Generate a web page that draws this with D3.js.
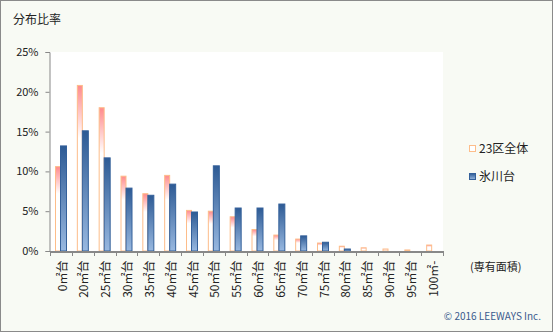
<!DOCTYPE html>
<html>
<head>
<meta charset="utf-8">
<script src="https://cdn.jsdelivr.net/npm/d3@7"></script>
<style>
  html, body { margin: 0; padding: 0; background: #ffffff; }
  svg { display: block; }
  text { font-family: "Noto Sans CJK JP", "Noto Sans", sans-serif; }
</style>
</head>
<body>
<svg id="chart" width="553" height="332"></svg>
<script>
// Floor-area bands
const categories = ["0㎡台","20㎡台","25㎡台","30㎡台","35㎡台","40㎡台","45㎡台","50㎡台","55㎡台","60㎡台","65㎡台","70㎡台","75㎡台","80㎡台","85㎡台","90㎡台","95㎡台","100㎡-"];
// Share of units per band (%)
const wardAll  = [10.6, 20.8, 18.0, 9.4, 7.2, 9.5, 5.1, 5.0, 4.3, 2.7, 2.0, 1.5, 1.0, 0.6, 0.4, 0.25, 0.13, 0.75];
const hikawadai = [13.2, 15.1, 11.7, 7.9, 7.0, 8.4, 4.9, 10.7, 5.4, 5.4, 5.9, 1.9, 1.1, 0.25, 0, 0, 0.12, 0.4];
const seriesNames = ["23区全体", "氷川台"];
const yTicks = [0, 5, 10, 15, 20, 25];

const W = 553, H = 332;
const plot = { left: 50, right: 443, top: 52, bottom: 251 };

const svg = d3.select("#chart");
const defs = svg.append("defs");

const gOrange = defs.append("linearGradient").attr("id", "gradOrange")
  .attr("x1", 0).attr("y1", 0).attr("x2", 0).attr("y2", 1);
gOrange.append("stop").attr("offset", "0%").attr("stop-color", "#ff8a8c");
gOrange.append("stop").attr("offset", "32%").attr("stop-color", "#ffffff");
gOrange.append("stop").attr("offset", "100%").attr("stop-color", "#ffffff");

const gBlue = defs.append("linearGradient").attr("id", "gradBlue")
  .attr("x1", 0).attr("y1", 0).attr("x2", 0).attr("y2", 1);
gBlue.append("stop").attr("offset", "0%").attr("stop-color", "#2d5a94");
gBlue.append("stop").attr("offset", "100%").attr("stop-color", "#98b8e0");

// Background and frame
svg.append("rect").attr("x", 0.5).attr("y", 0.5).attr("width", W - 1).attr("height", H - 1)
  .attr("fill", "#f8faf4").attr("stroke", "#8a8a8a");
svg.append("rect").attr("x", plot.left).attr("y", plot.top)
  .attr("width", plot.right - plot.left).attr("height", plot.bottom - plot.top)
  .attr("fill", "#ffffff");

const x = d3.scaleBand().domain(categories).range([plot.left, plot.right]).padding(0);
const y = d3.scaleLinear().domain([0, 25]).range([plot.bottom, plot.top]);

// Title
svg.append("text").attr("x", 13).attr("y", 24).attr("font-size", 12).attr("fill", "#222")
  .text("分布比率");

// Bars
const bw = x.bandwidth();
svg.append("g").selectAll("rect").data(categories).join("rect")
  .attr("x", d => x(d) + 5.5)
  .attr("y", (d, i) => y(wardAll[i]))
  .attr("width", 5)
  .attr("height", (d, i) => Math.max(0, y(0) - y(wardAll[i])))
  .attr("fill", "url(#gradOrange)")
  .attr("stroke", "#fdbd8a").attr("stroke-width", 1);

svg.append("g").selectAll("rect").data(categories).join("rect")
  .filter((d, i) => hikawadai[i] > 0)
  .attr("x", d => x(d) + 10.5)
  .attr("y", (d, i) => y(hikawadai[i]))
  .attr("width", 6)
  .attr("height", (d, i) => Math.max(0, y(0) - y(hikawadai[i])))
  .attr("fill", "url(#gradBlue)")
  .attr("stroke", "#34609a").attr("stroke-width", 1);

// Y axis
const yAxis = d3.axisLeft(y).tickValues(yTicks).tickFormat(d => d + "%").tickSize(4).tickPadding(7);
const gy = svg.append("g").attr("transform", `translate(${plot.left - 0.5},0)`).call(yAxis);
gy.selectAll("path, line").attr("stroke", "#888");
gy.selectAll("text").attr("font-size", 11).attr("fill", "#222")
  .attr("font-family", "\"DejaVu Sans\", sans-serif");

// X axis
const xAxis = d3.axisBottom(x).tickSize(0).tickPadding(0);
const gx = svg.append("g").attr("transform", `translate(0,${plot.bottom + 0.5})`).call(xAxis);
gx.select("path").attr("stroke", "#888").attr("stroke-width", 2);
gx.selectAll(".tick text")
  .attr("transform", "translate(1.5,9) rotate(-90)")
  .attr("text-anchor", "end")
  .attr("dy", "0.35em").attr("x", 0).attr("y", 0)
  .attr("font-size", 12).attr("fill", "#222");
// band-edge tick marks
svg.append("g").selectAll("line").data(d3.range(categories.length + 1)).join("line")
  .attr("x1", i => Math.round(plot.left + i * bw) + 0.5)
  .attr("x2", i => Math.round(plot.left + i * bw) + 0.5)
  .attr("y1", plot.bottom).attr("y2", plot.bottom + 5)
  .attr("stroke", "#888");

// Legend
const legend = svg.append("g");
legend.append("rect").attr("x", 469.5).attr("y", 145.5).attr("width", 6).attr("height", 6)
  .attr("fill", "#ffffff").attr("stroke", "#fdbd8a");
legend.append("text").attr("x", 479).attr("y", 152.5).attr("font-size", 12).attr("fill", "#222")
  .text(seriesNames[0]);
legend.append("rect").attr("x", 469.5).attr("y", 173.5).attr("width", 6).attr("height", 6)
  .attr("fill", "url(#gradBlue)").attr("stroke", "#34609a");
legend.append("text").attr("x", 479).attr("y", 180.5).attr("font-size", 12).attr("fill", "#222")
  .text(seriesNames[1]);

// Axis caption
svg.append("text").attr("x", 470).attr("y", 271).attr("font-size", 11).attr("fill", "#222")
  .text("(専有面積)");

// Credit
svg.append("text").attr("x", 541).attr("y", 320).attr("text-anchor", "end")
  .attr("font-size", 10).attr("fill", "#3b5a8e")
  .attr("font-family", "\"DejaVu Sans\", sans-serif")
  .text("© 2016 LEEWAYS Inc.");
</script>
</body>
</html>
